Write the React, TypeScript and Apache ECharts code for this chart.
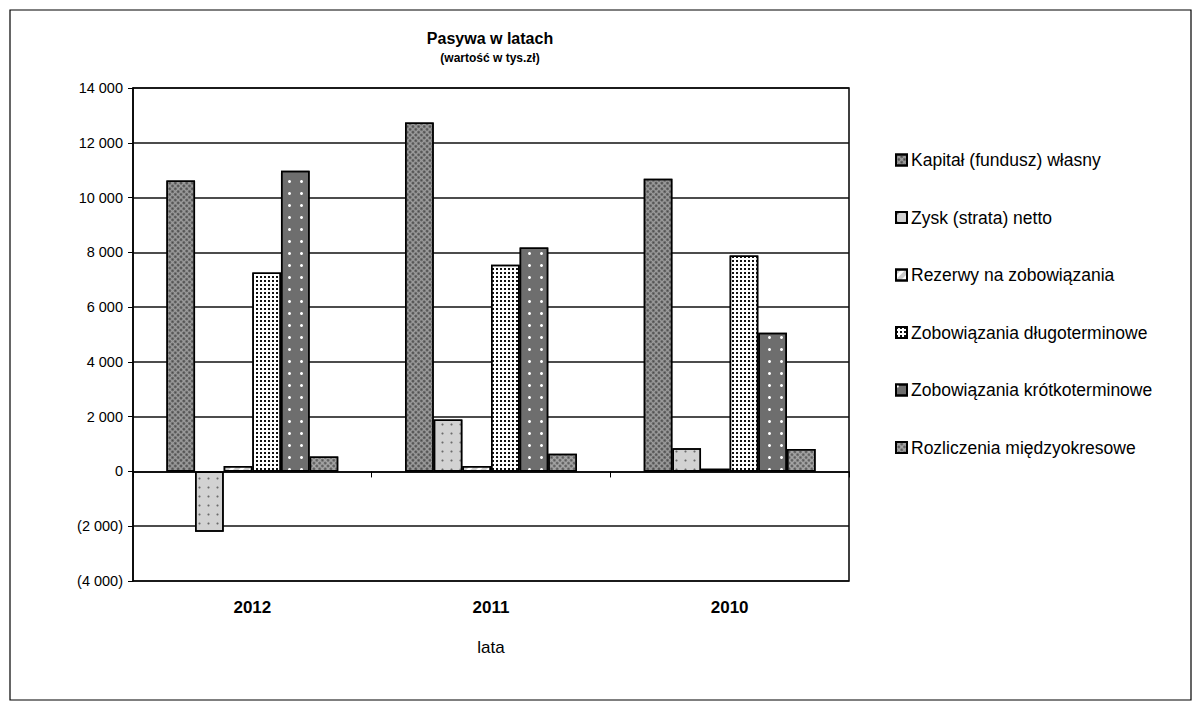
import React, { useEffect, useRef } from "react";
import * as echarts from "echarts";

const categories = ["2012", "2011", "2010"];
const seriesNames = [
  "Kapitał (fundusz) własny",
  "Zysk (strata) netto",
  "Rezerwy na zobowiązania",
  "Zobowiązania długoterminowe",
  "Zobowiązania krótkoterminowe",
  "Rozliczenia międzyokresowe",
];
const kapital = [10620, 12740, 10690];
const zysk = [-2200, 1900, 850];
const rezerwy = [200, 200, 100];
const dlugo = [7260, 7550, 7880];
const krotko = [10980, 8180, 5060];
const rozliczenia = [550, 650, 820];
const yTicks = { min: -4000, max: 14000, interval: 2000 };

const fmtNum = (v: number) => {
  const s = String(Math.abs(v)).replace(/\B(?=(\d{3})+(?!\d))/g, " ");
  return v < 0 ? `(${s})` : s;
};

const styles = [
  { color: "#9c9c9c", decal: { symbol: "circle", symbolSize: 0.9, color: "#4a4a4a", dashArrayX: [3, 1], dashArrayY: [3, 1], rotation: Math.PI / 4 } },
  { color: "#d2d2d2", decal: { symbol: "circle", symbolSize: 0.7, color: "#6a6a6a", dashArrayX: [3, 6], dashArrayY: [3, 6], rotation: 0 } },
  { color: "#ffffff", decal: "none" },
  { color: "#ffffff", decal: { symbol: "rect", symbolSize: 1, color: "#111", dashArrayX: [2, 1.2], dashArrayY: [2, 1.2], rotation: 0 } },
  { color: "#6e6e6e", decal: { symbol: "circle", symbolSize: 1, color: "#ffffff", dashArrayX: [2.5, 9], dashArrayY: [2.5, 9], rotation: 0 } },
  { color: "#a6a6a6", decal: { symbol: "circle", symbolSize: 0.9, color: "#555", dashArrayX: [3, 1], dashArrayY: [3, 1], rotation: Math.PI / 4 } },
];

export default function App() {
  const ref = useRef<HTMLDivElement>(null);
  useEffect(() => {
    if (!ref.current) return;
    const chart = echarts.init(ref.current, null, { renderer: "svg" });
    const data = [kapital, zysk, rezerwy, dlugo, krotko, rozliczenia];
    const font = "'Liberation Sans', Arial, sans-serif";
    chart.setOption({
      animation: false,
      aria: { enabled: true, decal: { show: true } },
      textStyle: { fontFamily: font },
      grid: { left: 133, right: 354, top: 88, bottom: 126, show: true, borderColor: "#000", borderWidth: 1.5 },
      graphic: [
        { type: "rect", shape: { x: 10, y: 10, width: 1181, height: 690 }, style: { fill: "none", stroke: "#000", lineWidth: 1.2 }, silent: true },
        { type: "text", x: 490, y: 38, style: { text: "Pasywa w latach", font: `bold 16px ${font}`, fill: "#000", textAlign: "center", textVerticalAlign: "middle" } },
        { type: "text", x: 490, y: 58, style: { text: "(wartość w tys.zł)", font: `bold 12px ${font}`, fill: "#000", textAlign: "center", textVerticalAlign: "middle" } },
      ],
      legend: {
        orient: "vertical",
        left: 890,
        top: 145,
        itemGap: 37.5,
        itemWidth: 11,
        itemHeight: 11,
        icon: "rect",
        data: seriesNames,
        textStyle: { fontSize: 17.5, color: "#000", fontFamily: font, lineHeight: 20, padding: [0, 0, 0, -1] },
      },
      xAxis: [
        {
          type: "category",
          data: categories,
          axisLine: { onZero: true, lineStyle: { color: "#000", width: 1.5 } },
          axisTick: { show: true, length: 6, lineStyle: { color: "#000" } },
          axisLabel: { show: false },
        },
        {
          type: "category",
          data: categories,
          position: "bottom",
          axisLine: { show: false },
          axisTick: { show: false },
          axisLabel: { show: true, fontSize: 17, fontWeight: "bold", color: "#000", margin: 18 },
          name: "lata",
          nameLocation: "middle",
          nameGap: 58,
          nameTextStyle: { fontSize: 17, color: "#000" },
        },
      ],
      yAxis: {
        type: "value",
        min: yTicks.min,
        max: yTicks.max,
        interval: yTicks.interval,
        axisLine: { show: true, lineStyle: { color: "#000", width: 1.5 } },
        axisTick: { show: true, length: 5, lineStyle: { color: "#000" } },
        axisLabel: { formatter: fmtNum, fontSize: 14.5, color: "#000", margin: 10 },
        splitLine: { show: true, lineStyle: { color: "#111", width: 1.5 } },
      },
      series: seriesNames.map((name, i) => ({
        name,
        type: "bar",
        xAxisIndex: 0,
        data: data[i],
        barGap: "0%",
        barCategoryGap: "28%",
        itemStyle: { color: styles[i].color, borderColor: "#000", borderWidth: 1.5, decal: styles[i].decal },
      })),
    });
    return () => chart.dispose();
  }, []);
  return <div ref={ref} style={{ position: "fixed", left: 0, top: 0, width: 1203, height: 707, background: "#fff" }} />;
}
